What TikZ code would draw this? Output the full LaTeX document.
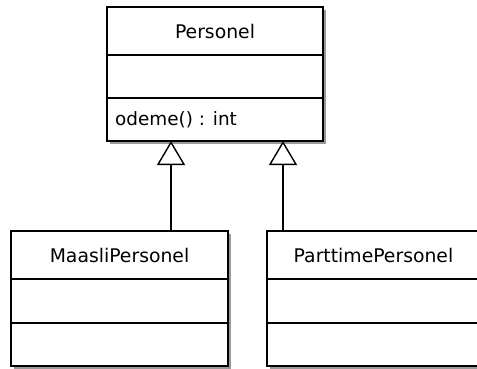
\documentclass[tikz,border=0pt]{standalone}
\usepackage{fontspec}
\setmainfont{DejaVu Sans}
\usetikzlibrary{arrows.meta}
\begin{document}
\begin{tikzpicture}[x=1pt,y=-1pt,
  comp/.style={draw=black, line width=1.4pt, fill=white, rectangle, inner sep=0pt, outer sep=0pt,
    minimum width=216pt, anchor=north west, font=\fontsize{18.8}{21}\selectfont},
  shade/.style={fill=black!40},
  lbl/.style={inner sep=0pt, font=\fontsize{18.4}{21}\selectfont},
  inh/.style={line width=1.4pt, -{Triangle[open, length=24pt, width=28pt, line width=1.4pt]}}]
\useasboundingbox (0,0) rectangle (477,369);
\clip (0,0) rectangle (477,369);
\fill[white] (0,0) rectangle (477,369);
% shadows
\fill[shade] (110,10) rectangle (326,144);
\fill[shade] (14,234) rectangle (231,369);
\fill[shade] (270,234) rectangle (490,369);
% Personel
\node[comp, minimum height=48pt] (p1) at (107,7) {Personel};
\node[comp, minimum height=43pt] (p2) at (p1.south west) {};
\node[comp, minimum height=43pt] (p3) at (p2.south west) {};
\node[lbl, anchor=west] (op) at (115,119.5) {odeme() : int};
% MaasliPersonel
\node[comp, minimum width=217pt, minimum height=48pt] (m1) at (11,231) {MaasliPersonel};
\node[comp, minimum width=217pt, minimum height=44pt] (m2) at (m1.south west) {};
\node[comp, minimum width=217pt, minimum height=43pt] (m3) at (m2.south west) {};
% ParttimePersonel
\node[comp, minimum width=217pt, minimum height=48pt] (t1) at (267,231) {\hspace*{-4pt}ParttimePersonel};
\node[comp, minimum width=217pt, minimum height=44pt] (t2) at (t1.south west) {};
\node[comp, minimum width=217pt, minimum height=43pt] (t3) at (t2.south west) {};
% generalizations
\coordinate (a1) at (171,141);
\coordinate (a2) at (283,141);
\draw[inh] (a1 |- m1.north) -- (a1 |- p3.south);
\draw[inh] (a2 |- t1.north) -- (a2 |- p3.south);
\end{tikzpicture}
\end{document}
